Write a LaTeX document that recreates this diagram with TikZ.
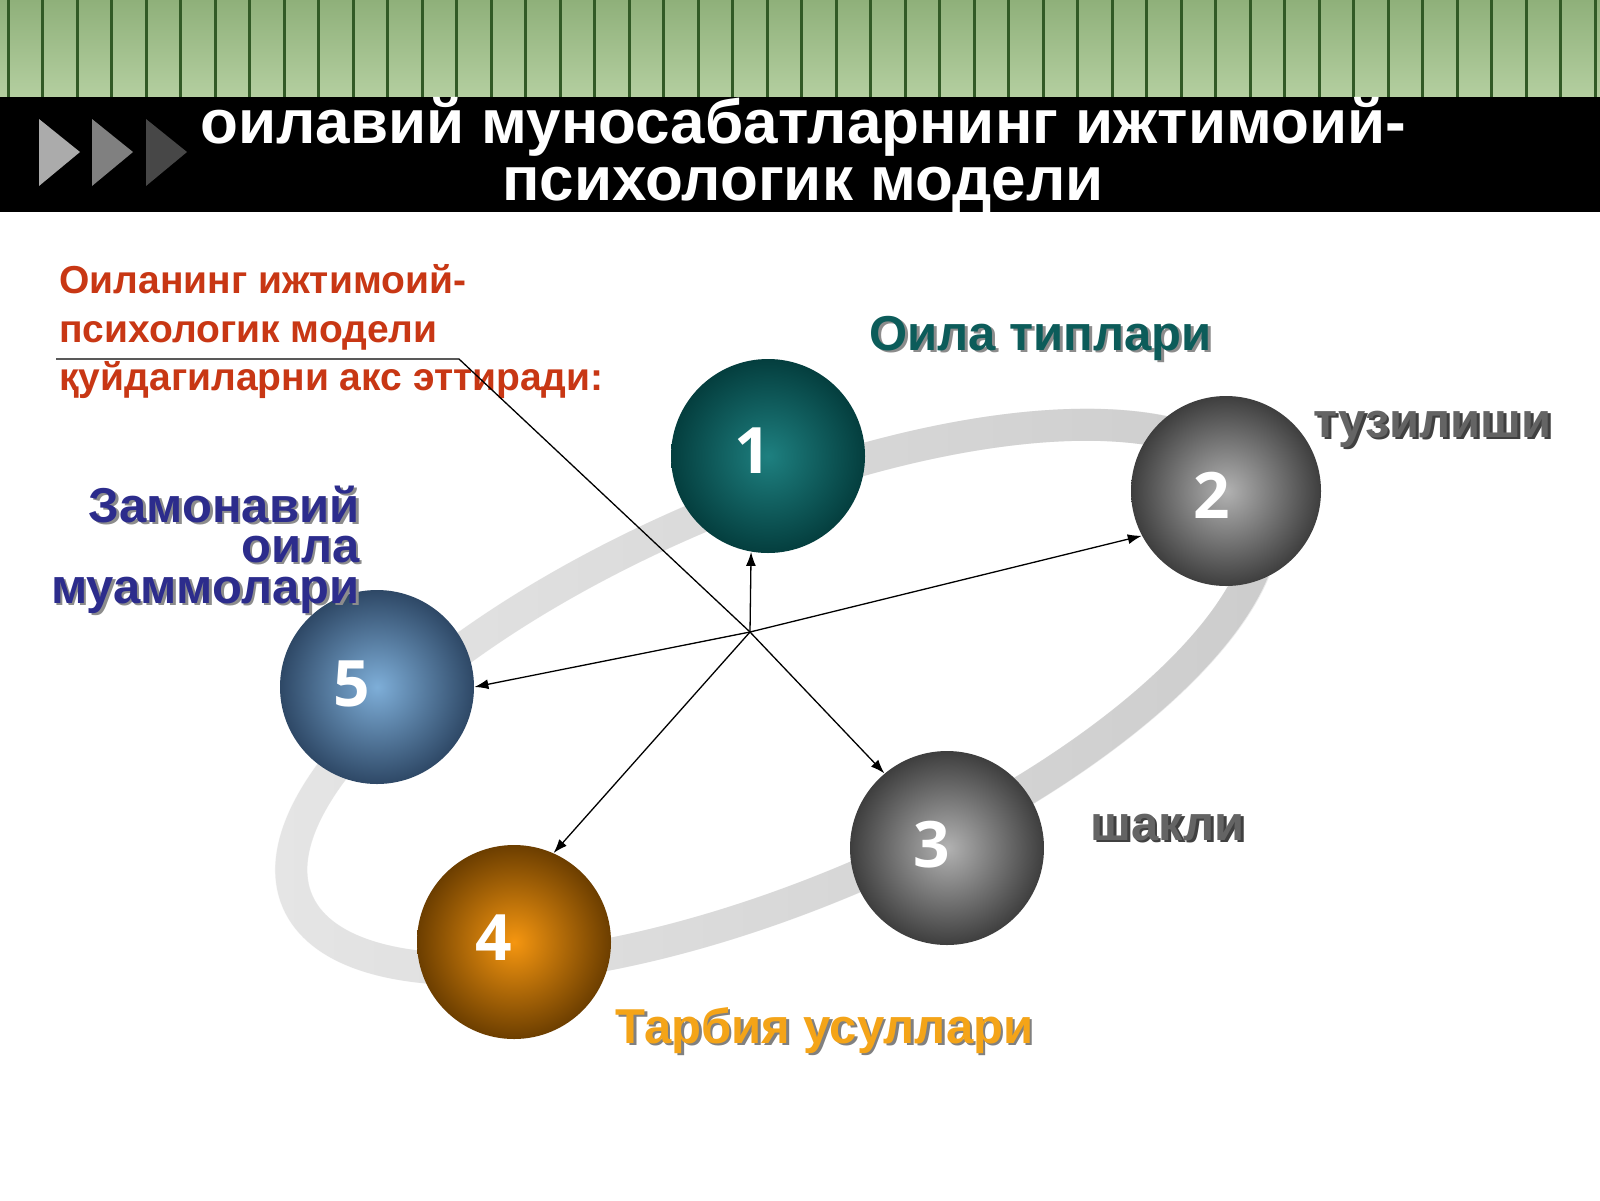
\documentclass[tikz,border=0pt]{standalone}
\usepackage{fontspec}
\setmainfont{Liberation Sans}
\newfontfamily\numfont{Open Sans}
\usetikzlibrary{arrows.meta}
\usetikzlibrary{fadings}

\definecolor{bandTop}{RGB}{143,176,122}
\definecolor{bandMid}{RGB}{158,190,138}
\definecolor{bandLow}{RGB}{180,207,160}
\definecolor{stripeGreen}{RGB}{50,90,38}
\definecolor{introRed}{RGB}{200,55,20}
\definecolor{typesTeal}{RGB}{12,92,90}
\definecolor{structGray}{RGB}{100,100,100}
\definecolor{problemBlue}{RGB}{44,44,140}
\definecolor{upbringOrange}{RGB}{244,164,24}
\definecolor{tealIn}{RGB}{30,128,128}
\definecolor{tealOut}{RGB}{4,62,62}
\definecolor{grayIn}{RGB}{178,178,178}
\definecolor{grayOut}{RGB}{62,62,62}
\definecolor{orangeIn}{RGB}{245,150,16}
\definecolor{orangeOut}{RGB}{108,62,0}
\definecolor{blueIn}{RGB}{126,174,216}
\definecolor{blueOut}{RGB}{46,72,102}

\tikzfading[name=ring fade, left color=transparent!85, right color=transparent!0]

% text with a small drop shadow
\newcommand{\shad}[2]{\makebox[0pt][l]{\kern1.3pt\raisebox{-1.3pt}{\textcolor{#1}{#2}}}#2}

\begin{document}
\begin{tikzpicture}[
    x=0.5pt, y=0.5pt,
    >={Latex[length=7pt,width=5pt]},
    band stripe/.style={draw=stripeGreen, line width=1.5pt},
    ring/.style={line width=16pt},
    ball/.style={circle, minimum size=97pt, inner sep=0pt},
    ball num/.style={text=white, inner sep=0pt, font=\numfont\bfseries\fontsize{32}{32}\selectfont},
    title line/.style={text=white, anchor=base, inner sep=0pt, font=\bfseries\fontsize{31}{31}\selectfont},
    intro line/.style={text=introRed, anchor=base west, inner sep=0pt, font=\bfseries\fontsize{19.5}{19.5}\selectfont},
    side label/.style={inner sep=0pt, font=\bfseries\fontsize{24.5}{24.5}\selectfont},
    link/.style={line width=0.65pt, black}
    ]
    \useasboundingbox (0,0) rectangle (1600,-1200);
    \fill[white] (0,0) rectangle (1600,-1200);
    % header
    \shade[top color=bandTop, middle color=bandMid, bottom color=bandLow] (0,0) rectangle (1600,-97);
    \foreach \i in {0,...,46} {
        \draw[band stripe] ({8+34.5*\i},0) -- ({8+34.5*\i},-97);
    }
    \fill[black] (0,-97) rectangle (1600,-212);
    \foreach \x/\c in {39/black!33, 92/black!50, 146/black!72} {
        \fill[fill=\c] (\x,-119) -- (\x+41,-152) -- (\x,-186) -- cycle;
    }
    \node[title line] (title1) at (803,-143) {оилавий муносабатларнинг ижтимоий-};
    \node[title line] (title2) at (803,-200) {психологик модели};
    % ring
    \draw[ring, draw=black!8, postaction={draw=black!20, path fading=ring fade},
        rotate around={23:(778,-697)}] (778,-697) ellipse [x radius=261pt, y radius=98pt];
    % balls
    \node[ball, inner color=tealIn, outer color=tealOut] (b1) at (768,-456) {};
    \node[ball, minimum size=95pt, inner color=grayIn, outer color=grayOut] (b2) at (1226,-491) {};
    \node[ball, inner color=grayIn, outer color=grayOut] (b3) at (947,-848) {};
    \node[ball, inner color=orangeIn, outer color=orangeOut] (b4) at (514,-942) {};
    \node[ball, inner color=blueIn, outer color=blueOut] (b5) at (377,-687) {};
    \node[ball num, xshift=-7.5pt, yshift=2.5pt] (n1) at (b1) {1};
    \node[ball num, xshift=-7pt, yshift=-2pt] (n2) at (b2) {2};
    \node[ball num, xshift=-7.5pt, yshift=1.5pt] (n3) at (b3) {3};
    \node[ball num, xshift=-10pt, yshift=2pt] (n4) at (b4) {4};
    \node[ball num, xshift=-12.5pt, yshift=1.5pt] (n5) at (b5) {5};
    % labels
    \node[side label, text=typesTeal, anchor=base west] (types) at (869,-350) {\shad{black!45}{Оила типлари}};
    \node[side label, text=structGray, anchor=base west] (struct) at (1313,-437) {\shad{black!75}{тузилиши}};
    \node[side label, text=structGray, anchor=base west] (form) at (1090,-840) {\shad{black!75}{шакли}};
    \node[side label, text=upbringOrange, anchor=base west] (upbring) at (615,-1043) {\shad{black!50}{Тарбия усуллари}};
    \node[side label, text=problemBlue, anchor=base east] (problems1) at (360,-522) {\shad{black!45}{Замонавий}};
    \node[side label, text=problemBlue, anchor=base east] (problems2) at (360,-562) {\shad{black!45}{оила}};
    \node[side label, text=problemBlue, anchor=base east] (problems3) at (360,-603) {\shad{black!45}{муаммолари}};
    \node[intro line] (intro1) at (59,-293) {Оиланинг ижтимоий-};
    \node[intro line] (intro2) at (59,-342) {психологик модели};
    \node[intro line] (intro3) at (59,-390) {қуйдагиларни акс эттиради:};
    % arrows
    \coordinate (hub) at (750,-632);
    \coordinate (under0) at (56,-359);
    \coordinate (under1) at (459,-359);
    \draw[link,->] (hub) -- (b1.260);
    \draw[link,->] (hub) -- (b2.208);
    \draw[link,->] (hub) -- (b4.66);
    \draw[link,->] (hub) -- (b5.east);
    \draw[link,->] (under0) -- (under1) -- (hub) -- (b3.130);
\end{tikzpicture}
\end{document}
